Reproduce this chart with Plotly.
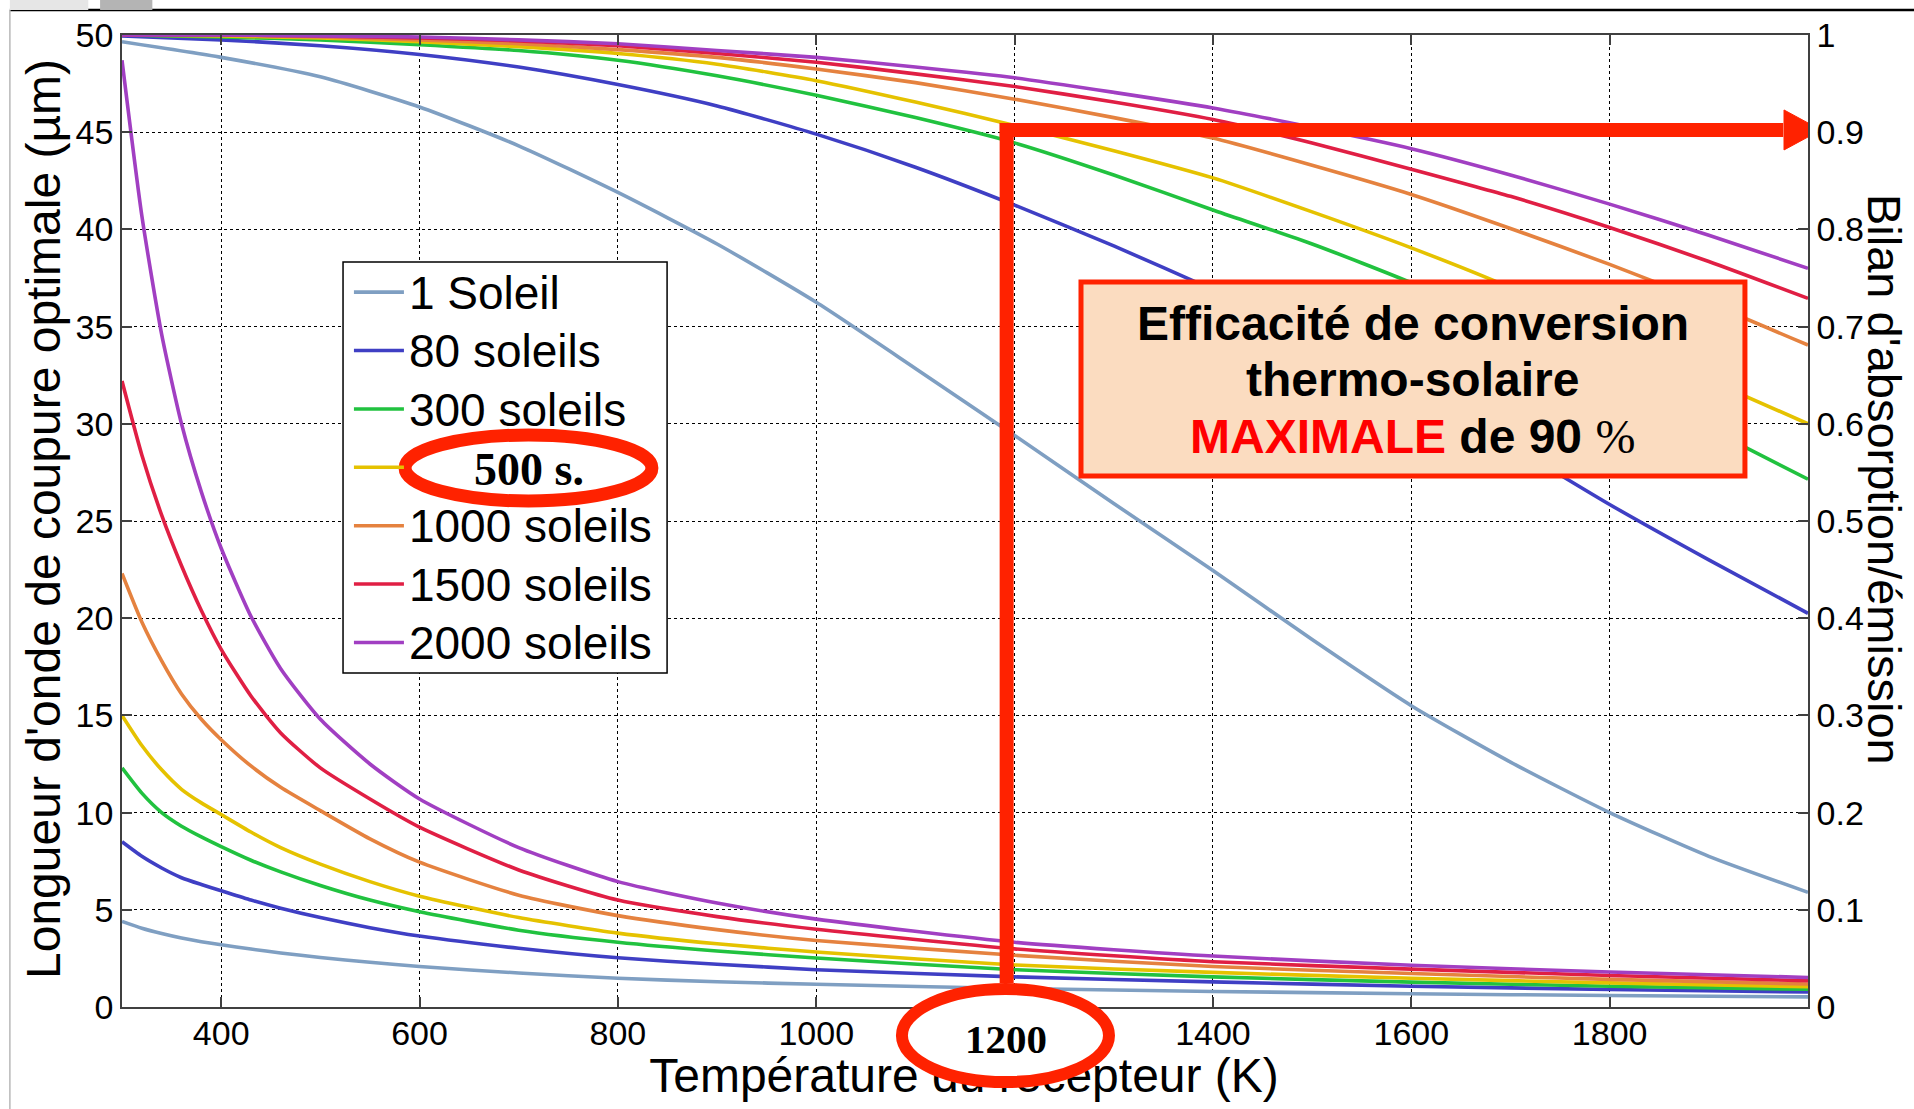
import plotly.graph_objects as go

# ---------------- data ----------------
series_names = ["1 Soleil", "80 soleils", "300 soleils", "500 soleils",
                "1000 soleils", "1500 soleils", "2000 soleils"]
colors = ["#7f9fc2", "#3f3fc4", "#21c23f", "#e5c200", "#e5823f", "#e01f44", "#a13fc2"]

# Temperature grid for the optimal cut-off wavelength curves (left axis, µm)
T_low = [300, 320, 340, 360, 380, 400, 430, 460, 500, 550, 600, 700, 800, 900,
         1000, 1200, 1400, 1600, 1800, 2000]
lam_1 = [4.4, 4.05, 3.78, 3.55, 3.36, 3.2, 2.98, 2.78, 2.55, 2.3, 2.08, 1.75, 1.48, 1.3,
         1.17, 0.95, 0.8, 0.68, 0.59, 0.52]
lam_80 = [8.5, 7.75, 7.15, 6.65, 6.3, 5.98, 5.5, 5.08, 4.6, 4.08, 3.65, 3.02, 2.53, 2.2,
          1.92, 1.55, 1.29, 1.07, 0.9, 0.77]
lam_300 = [12.3, 11.0, 10.0, 9.3, 8.75, 8.25, 7.55, 6.95, 6.25, 5.5, 4.9, 3.95, 3.33, 2.88,
           2.52, 1.92, 1.55, 1.28, 1.07, 0.91]
lam_500 = [15.0, 13.45, 12.2, 11.2, 10.5, 9.9, 9.0, 8.2, 7.35, 6.45, 5.7, 4.6, 3.8, 3.25,
           2.83, 2.16, 1.78, 1.48, 1.24, 1.04]
lam_1000 = [22.3, 19.8, 17.8, 16.1, 14.8, 13.75, 12.4, 11.3, 10.1, 8.65, 7.45, 5.75, 4.7, 3.98,
            3.42, 2.66, 2.08, 1.72, 1.42, 1.18]
lam_1500 = [32.2, 28.4, 25.3, 22.7, 20.4, 18.4, 16.0, 14.1, 12.3, 10.7, 9.25, 7.05, 5.5, 4.65,
            4.0, 2.99, 2.33, 1.95, 1.62, 1.35]
lam_2000 = [48.7, 40.7, 34.6, 30.0, 26.5, 23.6, 20.1, 17.4, 14.8, 12.5, 10.7, 8.2, 6.45, 5.35,
            4.52, 3.33, 2.62, 2.15, 1.8, 1.52]

# Temperature grid for the absorption/emission balance curves (right axis)
T_high = [300, 400, 500, 600, 700, 800, 900, 1000, 1100, 1200, 1300, 1400, 1500, 1600,
          1700, 1800, 1900, 2000]
bil_1 = [0.993, 0.977, 0.957, 0.926, 0.886, 0.838, 0.785, 0.725, 0.657, 0.588, 0.518, 0.449,
         0.378, 0.310, 0.252, 0.200, 0.155, 0.118]
bil_80 = [0.999, 0.995, 0.989, 0.980, 0.967, 0.949, 0.927, 0.898, 0.864, 0.825, 0.783, 0.738,
          0.690, 0.636, 0.578, 0.517, 0.460, 0.405]
bil_300 = [1.0, 0.998, 0.995, 0.990, 0.984, 0.974, 0.958, 0.938, 0.915, 0.889, 0.856, 0.820,
           0.785, 0.745, 0.697, 0.645, 0.595, 0.543]
bil_500 = [1.0, 0.999, 0.997, 0.993, 0.988, 0.981, 0.970, 0.953, 0.931, 0.907, 0.881, 0.853,
           0.818, 0.781, 0.740, 0.692, 0.645, 0.600]
bil_1000 = [1.0, 1.0, 0.998, 0.995, 0.991, 0.985, 0.977, 0.965, 0.951, 0.934, 0.915, 0.894,
            0.866, 0.836, 0.801, 0.764, 0.724, 0.681]
bil_1500 = [1.0, 1.0, 0.999, 0.997, 0.994, 0.989, 0.981, 0.972, 0.960, 0.947, 0.931, 0.913,
            0.889, 0.862, 0.834, 0.802, 0.767, 0.729]
bil_2000 = [1.0, 1.0, 0.999, 0.998, 0.995, 0.991, 0.984, 0.977, 0.967, 0.956, 0.941, 0.925,
            0.905, 0.883, 0.856, 0.826, 0.794, 0.760]

x_ticks = [400, 600, 800, 1000, 1200, 1400, 1600, 1800]
x_title = "Température du récepteur (K)"
x_title_pos = 1149   # centre of the x-axis title along the temperature scale
T_opt = 1192         # optimal temperature marked in red
eff_max = 0.9        # maximal efficiency marked in red

lam_all = [lam_1, lam_80, lam_300, lam_500, lam_1000, lam_1500, lam_2000]
bil_all = [bil_1, bil_80, bil_300, bil_500, bil_1000, bil_1500, bil_2000]

SANS = "Liberation Sans, Arial, sans-serif"
SERIF = "Liberation Serif, Times New Roman, serif"
RED = "#ff2200"
LINE_W = 3.6

fig = go.Figure()

# right-axis curves (no legend)
for name, c, b in zip(series_names, colors, bil_all):
    fig.add_trace(go.Scatter(x=T_high, y=b, mode="lines", xaxis="x2", yaxis="y2",
                             line=dict(color=c, width=LINE_W, shape="spline", smoothing=0.6),
                             showlegend=False, hoverinfo="skip"))

# left-axis curves (with legend)
for name, c, l in zip(series_names, colors, lam_all):
    if name == "500 soleils":
        label = '<span style="font-size:46px;color:rgba(0,0,0,0)">500 soleils</span>'
    else:
        label = '<span style="font-size:46px">%s</span>' % name
    fig.add_trace(go.Scatter(x=T_low, y=l, mode="lines", name=label,
                             line=dict(color=c, width=LINE_W, shape="spline", smoothing=0.6)))

axis_line = "#404040"
fig.update_layout(
    width=1914, height=1109,
    margin=dict(l=122, r=106, t=35, b=102, autoexpand=False),
    paper_bgcolor="white", plot_bgcolor="white",
    font=dict(family=SANS, color="black"),
    xaxis=dict(range=[300, 2000], tickvals=x_ticks, ticks="inside", ticklen=10,
               tickwidth=1.5, tickcolor=axis_line, showline=True, linecolor=axis_line,
               linewidth=1.5, mirror="ticks", showgrid=True, gridcolor="black",
               griddash="dot", gridwidth=1, tickfont=dict(size=34, family=SANS),
               ticklabelstandoff=-5, zeroline=False, automargin=False),
    # second x axis only carries the axis title, so that the red ellipse can mask part of it
    xaxis2=dict(range=[300, 2000], overlaying="x", anchor="y", side="bottom",
                tickvals=[x_title_pos], ticktext=[x_title], ticks="", showgrid=False,
                showline=False, zeroline=False, tickfont=dict(size=48, family=SANS),
                ticklabelstandoff=36, automargin=False),
    yaxis=dict(range=[0, 50], dtick=5, ticks="inside", ticklen=10, tickwidth=1.5,
               tickcolor=axis_line, showline=True, linecolor=axis_line, linewidth=1.5,
               showgrid=True, gridcolor="black", griddash="dot", gridwidth=1,
               tickfont=dict(size=34, family=SANS), zeroline=False, automargin=False),
    yaxis2=dict(range=[0, 1], dtick=0.1, overlaying="y", side="right", ticks="inside",
                ticklen=10, tickwidth=1.5, tickcolor=axis_line, showline=True,
                linecolor=axis_line, linewidth=1.5, showgrid=False,
                tickfont=dict(size=34, family=SANS), zeroline=False, automargin=False),
    legend=dict(x=0.1346, y=0.7706, xanchor="left", yanchor="top",
                bgcolor="rgba(0,0,0,0)", borderwidth=0,
                font=dict(size=42.6, family=SANS, color="black"),
                itemwidth=50, tracegroupgap=0),
    showlegend=True,
)

shapes = []
# legend frame (white box)
shapes.append(dict(type="rect", xref="paper", yref="paper", x0=0.1311, x1=0.3233,
                   y0=0.3436, y1=0.7665, line=dict(color="black", width=1.5),
                   fillcolor="white", layer="above"))
# ellipse over the 500 soleils legend label
shapes.append(dict(type="circle", xref="paper", yref="paper", x0=0.1679, x1=0.3143,
                   y0=0.5206, y1=0.5885, line=dict(color=RED, width=13),
                   fillcolor="white", layer="above"))
# red vertical line at the optimal temperature
shapes.append(dict(type="line", xref="x", yref="y2", x0=T_opt, x1=T_opt,
                   y0=0.0247, y1=eff_max + 0.0095, line=dict(color=RED, width=14),
                   layer="above"))
# red horizontal arrow shaft at 90 %
shapes.append(dict(type="line", xref="x", yref="y2", x0=T_opt - 7, x1=1975,
                   y0=eff_max + 0.0023, y1=eff_max + 0.0023,
                   line=dict(color=RED, width=14), layer="above"))
# arrow head
shapes.append(dict(type="path", xref="x", yref="y2", xsizemode="pixel", ysizemode="pixel",
                   xanchor=2000, yanchor=eff_max + 0.0023,
                   path="M -24,-20 L 13,0 L -24,20 Z", fillcolor=RED,
                   line=dict(color=RED, width=1), layer="above"))
# ellipse around 1200
shapes.append(dict(type="circle", xref="paper", yref="paper", x0=0.4626, x1=0.5854,
                   y0=-0.0772, y1=0.0185, line=dict(color=RED, width=12),
                   fillcolor="white", layer="above"))
# efficiency box
shapes.append(dict(type="rect", xref="paper", yref="paper", x0=0.5688, x1=0.9626,
                   y0=0.5463, y1=0.7459, line=dict(color=RED, width=5),
                   fillcolor="#fbdcc0", layer="above"))
# screenshot frame decorations
shapes.append(dict(type="line", xref="paper", yref="paper", x0=-0.0665, x1=1.07,
                   y0=1.0257, y1=1.0257, line=dict(color="black", width=2.5), layer="above"))
shapes.append(dict(type="line", xref="paper", yref="paper", x0=-0.0665, x1=-0.0665,
                   y0=1.0257, y1=-0.105, line=dict(color="#b8b8b8", width=1.5), layer="above"))
shapes.append(dict(type="rect", xref="paper", yref="paper", x0=-0.0665, x1=-0.02,
                   y0=1.0257, y1=1.036, line=dict(width=0), fillcolor="#e6e6e6", layer="above"))
shapes.append(dict(type="rect", xref="paper", yref="paper", x0=-0.013, x1=0.018,
                   y0=1.0257, y1=1.036, line=dict(width=0), fillcolor="#b4b4b4", layer="above"))
fig.update_layout(shapes=shapes)

annotations = [
    dict(text="Longueur d'onde de coupure optimale (µm)", xref="paper", yref="paper",
         x=-0.0469, y=0.502, textangle=-90, showarrow=False, font=dict(size=48, family=SANS),
         xanchor="center", yanchor="middle"),
    dict(text="Bilan d'absorption/émission", xref="paper", yref="paper", x=1.0458, y=0.543,
         textangle=90, showarrow=False, font=dict(size=47, family=SANS),
         xanchor="center", yanchor="middle"),
    dict(text="<b>500 s.</b>", xref="paper", yref="paper", x=0.2414, y=0.5525,
         showarrow=False, font=dict(size=46, family=SERIF), xanchor="center",
         yanchor="middle"),
    dict(text="<b>1200</b>", xref="paper", yref="paper", x=0.5243, y=-0.0329,
         showarrow=False, font=dict(size=41, family=SERIF), xanchor="center",
         yanchor="middle"),
    dict(text="<b>Efficacité de conversion</b>", xref="paper", yref="paper", x=0.7657,
         y=0.7037, showarrow=False, font=dict(size=48, family=SANS), xanchor="center",
         yanchor="middle"),
    dict(text="<b>thermo-solaire</b>", xref="paper", yref="paper", x=0.7657, y=0.6451,
         showarrow=False, font=dict(size=48, family=SANS), xanchor="center",
         yanchor="middle"),
    dict(text='<b><span style="color:#ff0000">MAXIMALE</span> de 90</b> '
              '<span style="font-family:Liberation Serif">%</span>',
         xref="paper", yref="paper", x=0.7657, y=0.5874, showarrow=False,
         font=dict(size=48, family=SANS), xanchor="center", yanchor="middle"),
]
fig.update_layout(annotations=annotations)

fig.write_html("out.html")
